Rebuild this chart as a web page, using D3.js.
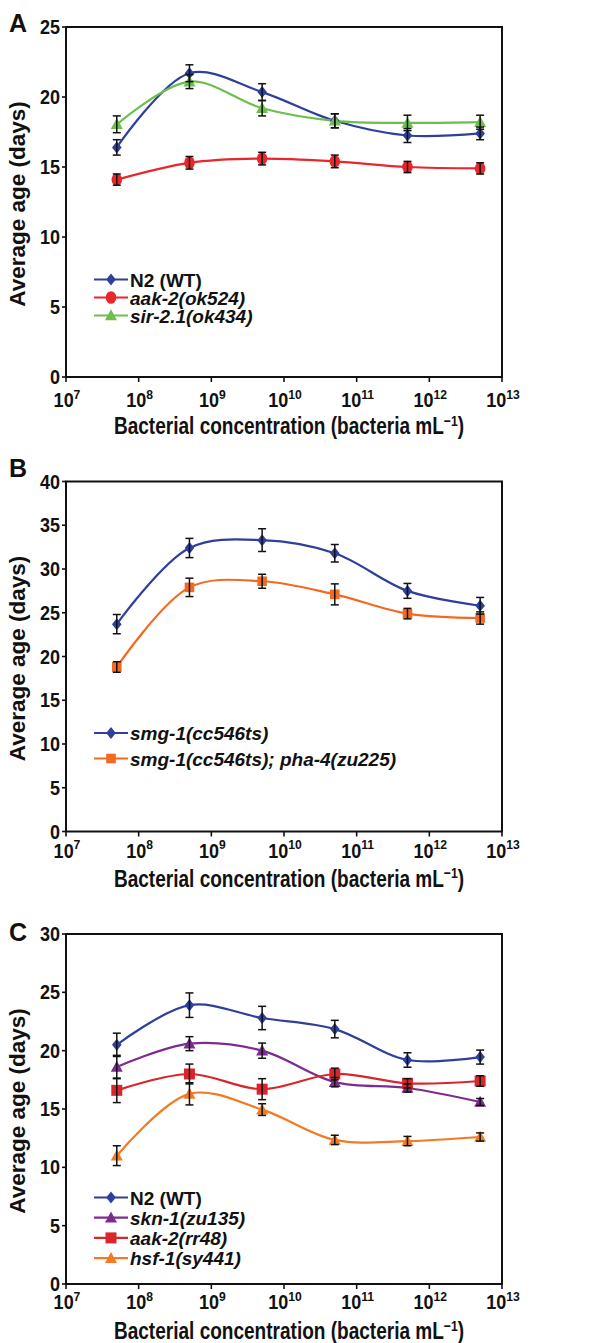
<!DOCTYPE html>
<html>
<head>
<meta charset="utf-8">
<script src="https://cdn.jsdelivr.net/npm/d3@7"></script>
<style>
  body { margin: 0; background: #fff; }
  svg text { font-family: "Liberation Sans", Arial, Helvetica, sans-serif; font-weight: bold; fill: #111; }
</style>
</head>
<body>
<div id="chart"></div>
<script>
// bacteria per mL at each feeding concentration
const concentrations = [5e7, 5e8, 5e9, 5e10, 5e11, 5e12];
const xTickExponents = [7, 8, 9, 10, 11, 12, 13];

// panel A
const n2A = [16.4, 21.7, 20.35, 18.3, 17.25, 17.4];
const n2AErr = [0.55, 0.6, 0.6, 0.5, 0.5, 0.45];
const aak2A = [14.1, 15.3, 15.6, 15.4, 15.0, 14.9];
const aak2AErr = [0.4, 0.45, 0.45, 0.45, 0.4, 0.4];
const sirA = [18.05, 21.1, 19.2, 18.3, 18.15, 18.2];
const sirAErr = [0.6, 0.5, 0.55, 0.5, 0.55, 0.5];

// panel B
const smgB = [23.7, 32.4, 33.3, 31.8, 27.5, 25.8];
const smgBErr = [1.1, 1.1, 1.3, 1.0, 0.85, 0.95];
const phaB = [18.8, 27.9, 28.6, 27.1, 24.9, 24.4];
const phaBErr = [0.6, 1.05, 0.8, 1.2, 0.6, 0.7];

// panel C
const n2C = [20.5, 23.9, 22.8, 21.85, 19.2, 19.45];
const n2CErr = [1.0, 1.05, 1.0, 0.75, 0.62, 0.6];
const sknC = [18.6, 20.6, 20.0, 17.3, 16.8, 15.6];
const sknCErr = [1.0, 0.6, 0.65, 0.4, 0.35, 0.3];
const aakC = [16.6, 18.0, 16.7, 18.0, 17.2, 17.4];
const aakCErr = [1.05, 0.85, 0.9, 0.5, 0.4, 0.45];
const hsfC = [11.0, 16.3, 14.95, 12.35, 12.25, 12.6];
const hsfCErr = [0.85, 0.95, 0.5, 0.4, 0.4, 0.35];

const width = 616;
const height = 1343;
const plotLeft = 66;
const plotRight = 502;
const tickScaleX = 0.9; // tick numbers are a condensed face in the original
const titleScaleX = 0.81;

const panels = [
  {
    letter: "A", top: 27, bottom: 377, yMax: 25, letterY: 32,
    tickLabelDy: 30, titleDy: 57,
    legendTop: 279.5, legendStep: 18,
    series: [
      { name: "N2 (WT)", italic: false, values: n2A, errors: n2AErr, color: "#2e3f9c", marker: "diamond" },
      { name: "aak-2(ok524)", italic: true, values: aak2A, errors: aak2AErr, color: "#e8262b", marker: "ellipse" },
      { name: "sir-2.1(ok434)", italic: true, values: sirA, errors: sirAErr, color: "#6cbf4c", marker: "triangle" },
    ],
  },
  {
    letter: "B", top: 481.5, bottom: 831.5, yMax: 40, letterY: 477,
    tickLabelDy: 26, titleDy: 55,
    legendTop: 733, legendStep: 25.5,
    series: [
      { name: "smg-1(cc546ts)", italic: true, values: smgB, errors: smgBErr, color: "#2e3f9c", marker: "diamond" },
      { name: "smg-1(cc546ts); pha-4(zu225)", italic: true, values: phaB, errors: phaBErr, color: "#f26a22", marker: "squareSmall" },
    ],
  },
  {
    letter: "C", top: 934, bottom: 1284, yMax: 30, letterY: 941,
    tickLabelDy: 25, titleDy: 55,
    legendTop: 1197.5, legendStep: 20.2,
    series: [
      { name: "N2 (WT)", italic: false, values: n2C, errors: n2CErr, color: "#2e3f9c", marker: "diamond" },
      { name: "skn-1(zu135)", italic: true, values: sknC, errors: sknCErr, color: "#7b2c8c", marker: "triangle" },
      { name: "aak-2(rr48)", italic: true, values: aakC, errors: aakCErr, color: "#d9262c", marker: "square" },
      { name: "hsf-1(sy441)", italic: true, values: hsfC, errors: hsfCErr, color: "#f47920", marker: "triangle" },
    ],
  },
];

const markerPath = (type) => {
  switch (type) {
    case "diamond": return "M0,-6L4.8,0L0,6L-4.8,0Z";
    case "triangle": return "M0,-6.2L6,4.8L-6,4.8Z";
    case "square": return "M-5.5,-5.5H5.5V5.5H-5.5Z";
    case "squareSmall": return "M-4.8,-4.8H4.8V4.8H-4.8Z";
    default: return null;
  }
};

const drawMarker = (g, type, color) => {
  if (type === "ellipse") {
    g.append("ellipse").attr("rx", 5.3).attr("ry", 6.3).attr("fill", color);
  } else {
    g.append("path").attr("d", markerPath(type)).attr("fill", color);
  }
};

const svg = d3
  .select("#chart")
  .append("svg")
  .attr("width", width)
  .attr("height", height);

const xScale = d3
  .scaleLog()
  .domain([1e7, 1e13])
  .range([plotLeft, plotRight]);

const line = d3.line().curve(d3.curveCatmullRom.alpha(0.5));

panels.forEach((p) => {
  const yScale = d3.scaleLinear().domain([0, p.yMax]).range([p.bottom, p.top]);
  const g = svg.append("g");

  // y axis ticks + labels
  const yTicks = d3.range(0, p.yMax + 1, 5);
  g.selectAll(".ytick")
    .data(yTicks)
    .join("line")
    .attr("x1", plotLeft - 4)
    .attr("x2", plotLeft)
    .attr("y1", (d) => yScale(d))
    .attr("y2", (d) => yScale(d))
    .attr("stroke", "#111")
    .attr("stroke-width", 1.6);
  g.selectAll(".ylabel")
    .data(yTicks)
    .join("text")
    .attr("transform", (d) => `translate(${plotLeft - 6},${yScale(d) + 7}) scale(${tickScaleX},1)`)
    .attr("text-anchor", "end")
    .attr("font-size", 20)
    .text((d) => d);

  // x axis ticks + labels
  g.selectAll(".xtick")
    .data(xTickExponents)
    .join("line")
    .attr("x1", (d) => xScale(Math.pow(10, d)))
    .attr("x2", (d) => xScale(Math.pow(10, d)))
    .attr("y1", p.bottom)
    .attr("y2", p.bottom + 5)
    .attr("stroke", "#111")
    .attr("stroke-width", 1.6);
  const xl = g.selectAll(".xlabel")
    .data(xTickExponents)
    .join("text")
    .attr("transform", (d) => `translate(${xScale(Math.pow(10, d)) + 1},${p.bottom + p.tickLabelDy}) scale(${tickScaleX},1)`)
    .attr("text-anchor", "middle")
    .attr("font-size", 20);
  xl.append("tspan").text("10");
  xl.append("tspan")
    .attr("dy", -8.5)
    .attr("font-size", 13.5)
    .text((d) => d);

  // frame
  g.append("rect")
    .attr("x", plotLeft)
    .attr("y", p.top)
    .attr("width", plotRight - plotLeft)
    .attr("height", p.bottom - p.top)
    .attr("fill", "none")
    .attr("stroke", "#111")
    .attr("stroke-width", 2);

  // axis titles
  const xt = g.append("text")
    .attr("transform", `translate(289,${p.bottom + p.titleDy}) scale(${titleScaleX},1)`)
    .attr("text-anchor", "middle")
    .attr("font-size", 23.5);
  xt.append("tspan").text("Bacterial concentration (bacteria mL");
  xt.append("tspan").attr("dy", -8.5).attr("font-size", 15).text("\u22121");
  xt.append("tspan").attr("dy", 8.5).text(")");

  g.append("text")
    .attr("transform", `translate(25,${(p.top + p.bottom) / 2 + 2}) rotate(-90)`)
    .attr("text-anchor", "middle")
    .attr("font-size", 22.5)
    .text("Average age (days)");

  g.append("text")
    .attr("x", 9)
    .attr("y", p.letterY)
    .attr("font-size", 25)
    .text(p.letter);

  // curves
  p.series.forEach((s) => {
    g.append("path")
      .attr("d", line(s.values.map((v, i) => [xScale(concentrations[i]), yScale(v)])))
      .attr("fill", "none")
      .attr("stroke", s.color)
      .attr("stroke-width", 2.2);
  });

  // markers
  p.series.forEach((s) => {
    s.values.forEach((v, i) => {
      const m = g.append("g")
        .attr("transform", `translate(${xScale(concentrations[i])},${yScale(v)})`);
      drawMarker(m, s.marker, s.color);
    });
  });

  // error bars
  p.series.forEach((s) => {
    s.values.forEach((v, i) => {
      const x = xScale(concentrations[i]);
      const y0 = yScale(v - s.errors[i]);
      const y1 = yScale(v + s.errors[i]);
      const eb = g.append("g").attr("stroke", "#111").attr("stroke-width", 1.5);
      eb.append("line").attr("x1", x).attr("x2", x).attr("y1", y0).attr("y2", y1);
      eb.append("line").attr("x1", x - 4).attr("x2", x + 4).attr("y1", y0).attr("y2", y0);
      eb.append("line").attr("x1", x - 4).attr("x2", x + 4).attr("y1", y1).attr("y2", y1);
    });
  });

  // legend
  p.series.forEach((s, i) => {
    const ly = p.legendTop + i * p.legendStep;
    const lg = g.append("g");
    lg.append("line")
      .attr("x1", 94).attr("x2", 128)
      .attr("y1", ly).attr("y2", ly)
      .attr("stroke", s.color)
      .attr("stroke-width", 2.2);
    const m = lg.append("g").attr("transform", `translate(111,${ly})`);
    drawMarker(m, s.marker, s.color);
    lg.append("text")
      .attr("x", 130)
      .attr("y", ly + 7)
      .attr("font-size", 19)
      .attr("font-style", s.italic ? "italic" : "normal")
      .text(s.name);
  });
});
</script>
</body>
</html>
